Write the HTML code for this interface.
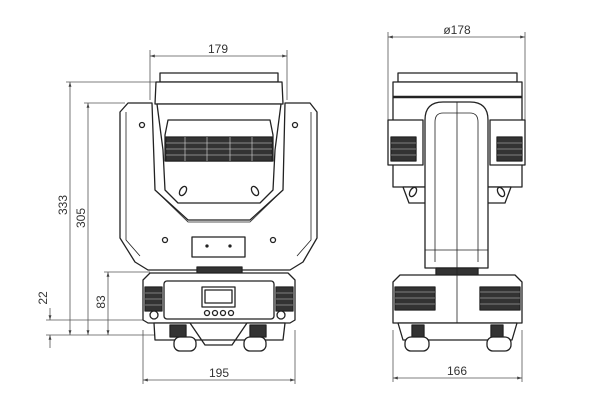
<!DOCTYPE html>
<html><head><meta charset="utf-8"><style>
html,body{margin:0;padding:0;background:#fff;}
svg{display:block}
text{font-family:"Liberation Sans",sans-serif;font-size:12px;fill:#333}
</style></head><body>
<svg width="600" height="400" viewBox="0 0 600 400" xmlns="http://www.w3.org/2000/svg">
<defs>
<marker id="a" viewBox="0 0 10 10" refX="10" refY="5" markerWidth="6" markerHeight="6" orient="auto-start-reverse"><path d="M0,2 L10,5 L0,8 z" fill="#444"/></marker>
</defs>
<g stroke="#555" stroke-width="0.8" fill="none">
<!-- dimension lines left -->
<line x1="150" y1="56" x2="287" y2="56" marker-start="url(#a)" marker-end="url(#a)"/>
<line x1="150" y1="50" x2="150" y2="100"/><line x1="287" y1="50" x2="287" y2="100"/>
<line x1="143" y1="380" x2="295" y2="380" marker-start="url(#a)" marker-end="url(#a)"/>
<line x1="143" y1="330" x2="143" y2="384"/><line x1="295" y1="330" x2="295" y2="384"/>
<line x1="70" y1="82" x2="70" y2="335" marker-start="url(#a)" marker-end="url(#a)"/>
<line x1="88" y1="103" x2="88" y2="335" marker-start="url(#a)" marker-end="url(#a)"/>
<line x1="108" y1="272" x2="108" y2="335" marker-start="url(#a)" marker-end="url(#a)"/>
<line x1="50" y1="308" x2="50" y2="320" marker-end="url(#a)"/>
<line x1="50" y1="348" x2="50" y2="335" marker-end="url(#a)"/>
<line x1="66" y1="82" x2="160" y2="82"/>
<line x1="84" y1="103" x2="125" y2="103"/>
<line x1="104" y1="272" x2="150" y2="272"/>
<line x1="46" y1="320" x2="150" y2="320"/>
<line x1="46" y1="335" x2="155" y2="335"/>
<!-- right dims -->
<line x1="388" y1="37" x2="525" y2="37" marker-start="url(#a)" marker-end="url(#a)"/>
<line x1="388" y1="32" x2="388" y2="120"/><line x1="525" y1="32" x2="525" y2="120"/>
<line x1="393" y1="378" x2="522" y2="378" marker-start="url(#a)" marker-end="url(#a)"/>
<line x1="393" y1="330" x2="393" y2="382"/><line x1="522" y1="330" x2="522" y2="382"/>
</g>
<text x="218" y="53" text-anchor="middle">179</text>
<text x="219" y="377" text-anchor="middle">195</text>
<text x="457" y="34" text-anchor="middle">ø178</text>
<text x="457" y="375" text-anchor="middle">166</text>
<text transform="translate(67,205) rotate(-90)" text-anchor="middle">333</text>
<text transform="translate(85,218) rotate(-90)" text-anchor="middle">305</text>
<text transform="translate(105,302) rotate(-90)" text-anchor="middle">83</text>
<text transform="translate(47,298) rotate(-90)" text-anchor="middle">22</text>

<g stroke="#222" stroke-width="1.3" fill="#fff" stroke-linejoin="round">
<!-- LEFT VIEW -->
<rect x="160" y="73" width="118" height="9"/>
<path d="M156,82 H282 L283,104 H155 Z"/>
<!-- yoke -->
<path d="M128,103 H152 L155,190 L188,220 H250 L283,190 L285,103 H310 L317,112 V238 L303,262 L290,270 H148 L135,262 L120,238 V112 Z"/>
<path d="M126,112 V240 L140,256 M311,112 V240 L297,256" fill="none" stroke-width="0.8"/>
<path d="M155,190 L188,222 H250 L283,190" fill="none" stroke-width="0.8"/>
<!-- head -->
<path d="M157,104 L163,150 L165,190 L178,203 H260 L273,190 L275,150 L281,104 Z"/>
<path d="M168,120 H270 L273,135 V161 H165 V135 Z"/>
<rect x="166" y="137" width="106" height="24" fill="#333"/>
<g stroke="#ddd" stroke-width="0.6">
<line x1="166" y1="143" x2="272" y2="143"/><line x1="166" y1="149" x2="272" y2="149"/><line x1="166" y1="155" x2="272" y2="155"/>
<line x1="185" y1="137" x2="185" y2="161"/><line x1="207" y1="137" x2="207" y2="161"/><line x1="230" y1="137" x2="230" y2="161"/><line x1="252" y1="137" x2="252" y2="161"/>
</g>
<ellipse cx="183" cy="191" rx="3" ry="5" transform="rotate(30 183 191)"/>
<ellipse cx="255" cy="191" rx="3" ry="5" transform="rotate(-30 255 191)"/>
<circle cx="142" cy="125" r="2.5"/><circle cx="295" cy="125" r="2.5"/>
<circle cx="165" cy="240" r="2.5"/><circle cx="273" cy="240" r="2.5"/>
<rect x="192" y="237" width="53" height="20"/>
<circle cx="207" cy="246" r="1" fill="#222"/><circle cx="230" cy="246" r="1" fill="#222"/>
<rect x="197" y="267" width="45" height="6" fill="#333"/>
<!-- base -->
<path d="M150,273 H288 L295,280 V320 L290,323 H148 L143,320 V280 Z"/>
<rect x="164" y="281" width="110" height="38" rx="3"/>
<rect x="202" y="287" width="33" height="20"/>
<rect x="205" y="290" width="27" height="13"/>
<rect x="145" y="287" width="17" height="24" fill="#333"/>
<rect x="276" y="287" width="17" height="24" fill="#333"/>
<circle cx="154" cy="315" r="4"/><circle cx="281" cy="315" r="4"/>
<circle cx="207" cy="313" r="2.5"/><circle cx="215" cy="313" r="2.5"/><circle cx="223" cy="313" r="2.5"/><circle cx="231" cy="313" r="2.5"/>
<!-- feet -->
<path d="M154,323 H190 L205,345 H232 L247,323 H285 L283,340 H155 Z"/>
<rect x="170" y="325" width="16" height="12" fill="#333"/>
<rect x="250" y="325" width="16" height="12" fill="#333"/>
<rect x="174" y="337" width="22" height="14" rx="6"/>
<rect x="244" y="337" width="22" height="14" rx="6"/>

<!-- RIGHT VIEW -->
<rect x="398" y="73" width="119" height="9"/>
<rect x="393" y="82" width="129" height="105"/>
<line x1="393" y1="97" x2="522" y2="97" stroke-width="2.5"/>
<path d="M403,187 H511 L505,203 H409 Z"/>
<rect x="388" y="120" width="35" height="45"/>
<rect x="490" y="120" width="35" height="45"/>
<rect x="391" y="137" width="25" height="24" fill="#333"/>
<rect x="497" y="137" width="25" height="24" fill="#333"/>
<ellipse cx="413" cy="192" rx="3" ry="5" transform="rotate(30 413 192)"/>
<ellipse cx="501" cy="192" rx="3" ry="5" transform="rotate(-30 501 192)"/>
<path d="M425,268 V120 Q425,102 443,102 H470 Q488,102 488,120 V268 Z"/>
<path d="M435,262 V122 Q435,113 443,113 H470 Q478,113 478,122 V262" fill="none" stroke-width="0.8"/>
<line x1="425" y1="250" x2="488" y2="250" stroke-width="0.8"/>
<rect x="436" y="268" width="42" height="7" fill="#333"/>
<path d="M400,275 H515 L522,282 V323 H393 V282 Z"/>
<rect x="395" y="287" width="40" height="23" fill="#333"/>
<rect x="480" y="287" width="40" height="23" fill="#333"/>
<line x1="457" y1="102" x2="457" y2="323" stroke-width="0.8"/>
<path d="M398,323 H517 L512,340 H403 Z"/>
<rect x="412" y="325" width="12" height="12" fill="#333"/>
<rect x="491" y="325" width="12" height="12" fill="#333"/>
<rect x="405" y="337" width="24" height="14" rx="6"/>
<rect x="487" y="337" width="24" height="14" rx="6"/>
</g>
<g stroke="#ccc" stroke-width="0.6">
<line x1="145" y1="293" x2="162" y2="293"/><line x1="145" y1="299" x2="162" y2="299"/><line x1="145" y1="305" x2="162" y2="305"/>
<line x1="276" y1="293" x2="293" y2="293"/><line x1="276" y1="299" x2="293" y2="299"/><line x1="276" y1="305" x2="293" y2="305"/>
<line x1="395" y1="292" x2="435" y2="292"/><line x1="395" y1="298" x2="435" y2="298"/><line x1="395" y1="304" x2="435" y2="304"/>
<line x1="480" y1="292" x2="520" y2="292"/><line x1="480" y1="298" x2="520" y2="298"/><line x1="480" y1="304" x2="520" y2="304"/>
<line x1="391" y1="143" x2="416" y2="143"/><line x1="391" y1="149" x2="416" y2="149"/><line x1="391" y1="155" x2="416" y2="155"/>
<line x1="497" y1="143" x2="522" y2="143"/><line x1="497" y1="149" x2="522" y2="149"/><line x1="497" y1="155" x2="522" y2="155"/>
</g>
</svg>
</body></html>
